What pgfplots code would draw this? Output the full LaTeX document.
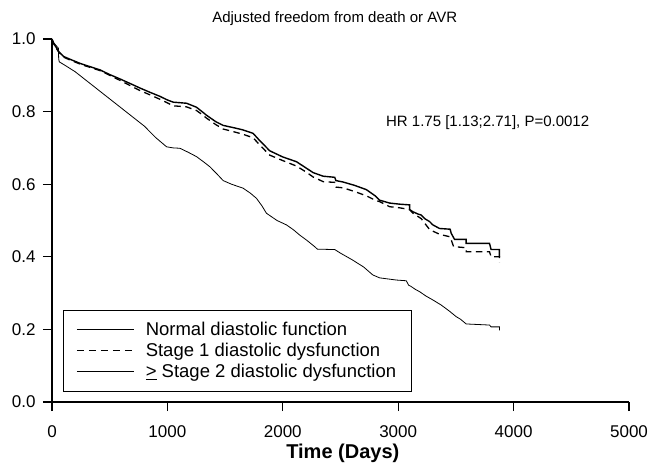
\documentclass[border=0pt]{standalone}
\usepackage{fontspec}
\setmainfont{Liberation Sans}
\usepackage{pgfplots}
\pgfplotsset{compat=1.18}

\begin{document}
\begin{tikzpicture}
\begin{axis}[
    scale only axis, width=577pt, height=363pt,
    xmin=0, xmax=5000, ymin=0, ymax=1,
    clip=false,
    axis lines*=left,
    axis line style={-, line width=1.1pt},
    xtick={0,1000,2000,3000,4000,5000},
    ytick={0,0.2,0.4,0.6,0.8,1},
    scaled x ticks=false,
    tick align=outside, major tick length=9pt,
    tick style={line width=1.1pt, black},
    /pgf/number format/assume math mode=true,
    xticklabel style={font=\fontsize{17}{17}\selectfont, yshift=-11pt, /pgf/number format/1000 sep={}},
    yticklabel style={font=\fontsize{17}{17}\selectfont, xshift=-4pt, /pgf/number format/.cd, fixed, fixed zerofill, precision=1},
    title={Adjusted freedom from death or AVR},
    title style={font=\fontsize{15}{15}\selectfont, at={(axis description cs:0.49,1)}, anchor=south, yshift=4pt},
    xlabel={\textbf{Time (Days)}},
    xlabel style={font=\fontsize{20}{20}\selectfont, at={(axis description cs:0.504,0)}, anchor=center, yshift=-51pt},
    legend cell align=left,
    legend style={at={(axis cs:95,0.03)}, anchor=south west, draw=black,
        font=\fontsize{18.5}{18.5}\selectfont, inner xsep=13pt, inner ysep=10pt,
        row sep=2pt, column sep=9pt},
]
% Normal diastolic function
\addplot[black, line width=1.4pt,
    legend image code/.code={\draw[black, line width=1.6pt] (0pt,0pt) -- (57pt,0pt);}] coordinates {
    (0,1.0) (10,0.99) (30,0.98) (60,0.965) (100,0.952) (150,0.945) (250,0.932)
    (415,0.915) (500,0.902) (589,0.89) (700,0.874) (762,0.865) (850,0.853)
    (935,0.842) (1000,0.832) (1050,0.826) (1166,0.823) (1252,0.812) (1300,0.80)
    (1339,0.79) (1420,0.772) (1483,0.762) (1569,0.756) (1650,0.75) (1743,0.74)
    (1800,0.72) (1887,0.692) (2000,0.675) (2118,0.662) (2200,0.645) (2262,0.632)
    (2350,0.622) (2450,0.619) (2460,0.61) (2522,0.606) (2620,0.597) (2724,0.585)
    (2800,0.568) (2839,0.556) (2926,0.548) (3012,0.545) (3099,0.543) (3099,0.53)
    (3128,0.524) (3170,0.518) (3200,0.515) (3230,0.505) (3272,0.497) (3300,0.488)
    (3358,0.478) (3450,0.476) (3459,0.465) (3488,0.448) (3589,0.448) (3589,0.437)
    (3791,0.437) (3805,0.42) (3877,0.42) (3877,0.40)
};
% Stage 1 diastolic dysfunction
\addplot[black, line width=1.3pt, dash pattern=on 6.5pt off 4.5pt,
    legend image code/.code={\draw[black, line width=1.5pt, dash pattern=on 7pt off 5pt] (0pt,0pt) -- (57pt,0pt);}] coordinates {
    (0,1.0) (10,0.99) (30,0.978) (60,0.963) (100,0.95) (150,0.943) (250,0.93)
    (415,0.913) (500,0.9) (589,0.886) (700,0.868) (762,0.858) (850,0.846)
    (935,0.834) (1000,0.824) (1050,0.816) (1166,0.813) (1252,0.803) (1300,0.792)
    (1339,0.782) (1420,0.764) (1483,0.752) (1569,0.745) (1650,0.738) (1743,0.728)
    (1800,0.708) (1887,0.68) (2000,0.665) (2118,0.65) (2200,0.634) (2262,0.62)
    (2350,0.607) (2450,0.605) (2460,0.592) (2522,0.59) (2620,0.58) (2724,0.568)
    (2800,0.556) (2839,0.552) (2926,0.538) (3012,0.535) (3099,0.53) (3128,0.52)
    (3200,0.505) (3272,0.475) (3358,0.462) (3450,0.455) (3480,0.428) (3589,0.425)
    (3589,0.414) (3791,0.414) (3805,0.40) (3877,0.40) (3877,0.384)
};
% >= Stage 2 diastolic dysfunction
\addplot[black, line width=0.8pt,
    legend image code/.code={\draw[black, line width=0.8pt] (0pt,0pt) -- (57pt,0pt);}] coordinates {
    (0,1.0) (15,0.99) (35,0.982) (55,0.975) (58,0.945) (63,0.937) (100,0.93)
    (200,0.91) (300,0.885) (400,0.86) (500,0.835) (600,0.81) (700,0.785)
    (800,0.76) (900,0.728) (993,0.703) (1050,0.70) (1108,0.699) (1180,0.688)
    (1252,0.676) (1320,0.66) (1368,0.648) (1430,0.628) (1483,0.61) (1555,0.60)
    (1656,0.589) (1720,0.575) (1772,0.561) (1820,0.54) (1858,0.52) (1950,0.50)
    (2031,0.488) (2090,0.475) (2146,0.46) (2210,0.445) (2276,0.428) (2300,0.421)
    (2450,0.42) (2500,0.41) (2600,0.392) (2700,0.372) (2780,0.35) (2839,0.342)
    (2983,0.336) (3070,0.334) (3090,0.322) (3113,0.318) (3150,0.31) (3185,0.304)
    (3240,0.292) (3301,0.281) (3373,0.267) (3445,0.25) (3503,0.235) (3540,0.228)
    (3589,0.215) (3791,0.212) (3805,0.207) (3877,0.207) (3877,0.197)
};
\legend{Normal diastolic function, Stage 1 diastolic dysfunction, \underline{>} Stage 2 diastolic dysfunction}
\node[font=\fontsize{15}{15}\selectfont] at (axis cs:3775,0.771) {HR 1.75 [1.13;2.71], P=0.0012};
\coordinate (bl) at (rel axis cs:0,0);
\coordinate (tr) at (rel axis cs:1,1);
\end{axis}
\pgfresetboundingbox
\path ([shift={(-52pt,-60pt)}]bl) rectangle ([shift={(25pt,39pt)}]tr);
\end{tikzpicture}
\end{document}
